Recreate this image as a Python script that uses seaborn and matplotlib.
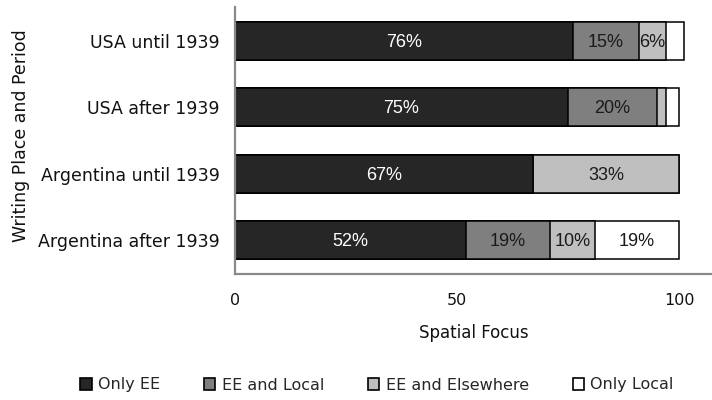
import numpy as np
import pandas as pd
import matplotlib
matplotlib.use("Agg")
import matplotlib.pyplot as plt
from matplotlib.patches import Patch
import seaborn as sns

categories = ["USA until 1939", "USA after 1939", "Argentina until 1939", "Argentina after 1939"]
series_names = ["Only EE", "EE and Local", "EE and Elsewhere", "Only Local"]
only_ee = [76, 75, 67, 52]
ee_local = [15, 20, 0, 19]
ee_elsewhere = [6, 2, 33, 10]
only_local = [4, 3, 0, 19]
x_ticks = [0, 50, 100]

colors = ["#262626", "#7f7f7f", "#bfbfbf", "#ffffff"]
text_colors = ["white", "#1a1a1a", "#1a1a1a", "#1a1a1a"]

sns.set_theme(style="white")
plt.rcParams["font.family"] = ["DejaVu Sans"]

series = [only_ee, ee_local, ee_elsewhere, only_local]
vals = np.array(series, dtype=float)
cum = np.cumsum(vals, axis=0)

fig = plt.figure(figsize=(7.12, 4.0), dpi=100)
ax = fig.add_axes([235 / 712, 1 - 274 / 400, (712 - 235) / 712, (274 - 7) / 400])

# draw cumulative bars from the largest to the smallest so each segment shows
for i in range(len(series) - 1, -1, -1):
    df = pd.DataFrame({"cat": categories, "val": cum[i]})
    sns.barplot(data=df, y="cat", x="val", orient="h", color=colors[i],
                saturation=1, width=0.573, edgecolor="black", linewidth=1.1,
                order=categories, ax=ax)

for i in range(len(series)):
    for j, cat in enumerate(categories):
        v = vals[i, j]
        if v >= 5:
            center = cum[i, j] - v / 2
            ax.text(center, j + 0.02, f"{v:.0f}%", ha="center", va="center",
                    color=text_colors[i], fontsize=13,
                    family=["Liberation Sans", "DejaVu Sans"])

ax.set_xlim(0, 107.4)
ax.set_ylim(3.51, -0.51)
ax.set_xticks(x_ticks)
ax.set_xticklabels([str(t) for t in x_ticks])
ax.tick_params(axis="both", length=0, colors="#111111")
ax.tick_params(axis="x", pad=14, labelsize=11.5)
ax.tick_params(axis="y", pad=11, labelsize=12.5)
ax.set_xlabel("Spatial Focus", fontsize=12, labelpad=11, color="#111111")
ax.set_ylabel("Writing Place and Period", fontsize=12.5, color="#111111")
ax.yaxis.set_label_coords(-0.43, 0.52)

for s in ["top", "right"]:
    ax.spines[s].set_visible(False)
for s in ["left", "bottom"]:
    ax.spines[s].set_color("#898989")
    ax.spines[s].set_linewidth(1.6)

handles = [Patch(facecolor=c, edgecolor="black", linewidth=1.2) for c in colors]
fig.legend(handles, series_names, loc="center", bbox_to_anchor=(377 / 712, 1 - 385 / 400),
           ncol=4, frameon=False, fontsize=11.5, handlelength=0.7, handleheight=0.7,
           handletextpad=0.4, columnspacing=2.75)

fig.savefig("out.png", dpi=100)
